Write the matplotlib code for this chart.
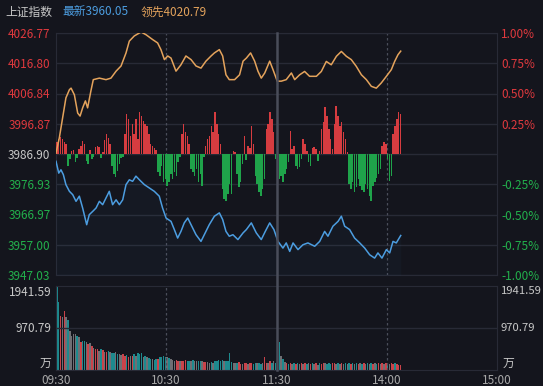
import matplotlib
matplotlib.use('Agg')
import matplotlib.pyplot as plt
from matplotlib.lines import Line2D

plt.rcParams['font.family'] = ['Noto Sans CJK SC', 'DejaVu Sans']

# ---------------- data ----------------
PREV_CLOSE = 3986.90
LATEST = 3960.05
LEAD = 4020.79

lead_min = [0, 1.8, 3.6, 5.4, 7.3, 8.2, 10.0, 11.8, 13.1, 14.5, 16.0, 17.2, 19.0, 20.3, 23.6,
            27.2, 29.9, 32.7, 35.4, 38.1, 39.9, 42.6, 46.3, 49.0, 52.6, 55.3, 57.1, 59.0, 60.8,
            62.6, 65.3, 68.0, 70.7, 73.5, 76.2, 78.9, 81.6, 84.4, 86.2, 88.9, 90.7, 92.5, 94.3,
            97.2, 99.9, 101.8, 103.6, 105.9, 108.1, 109.9, 111.7, 113.6, 116.3, 118.1, 120.4,
            122.6, 125.3, 128.1, 129.9, 132.6, 135.3, 138.0, 141.7, 144.4, 147.1, 149.8, 152.6,
            155.3, 158.0, 160.7, 163.4, 166.2, 168.9, 171.6, 174.3, 177.0, 179.8, 182.5, 184.3,
            186.1, 187.6]
lead_val = [3987.2, 3992.2, 3998.8, 4005.4, 4008.1, 4008.6, 4006.4, 4000.4, 3999.4, 4002.1,
            4004.4, 4002.1, 4007.7, 4011.4, 4011.9, 4011.4, 4011.9, 4014.2, 4015.9, 4020.2,
            4024.1, 4025.8, 4027.1, 4026.2, 4024.6, 4023.5, 4021.3, 4018.0, 4019.2, 4018.5,
            4014.2, 4016.3, 4019.2, 4018.0, 4015.9, 4015.2, 4017.5, 4019.2, 4020.2, 4021.3,
            4019.2, 4013.0, 4011.4, 4011.4, 4013.0, 4017.5, 4018.5, 4020.2, 4017.5, 4014.2,
            4011.9, 4013.6, 4017.5, 4014.7, 4010.9, 4010.9, 4011.4, 4013.6, 4011.4, 4013.0,
            4014.1, 4012.5, 4012.5, 4014.1, 4017.4, 4016.3, 4019.1, 4020.7, 4019.1, 4018.0,
            4015.8, 4013.0, 4011.4, 4009.2, 4008.6, 4010.3, 4012.5, 4014.7, 4017.4, 4019.6,
            4020.79]

price_min = [0, 1.5, 2.7, 4.0, 5.4, 7.3, 9.1, 10.9, 12.7, 14.5, 16.7, 18.1, 20.0, 21.8, 23.6,
             25.4, 27.2, 29.0, 30.8, 32.7, 34.5, 36.3, 38.1, 39.9, 41.7, 43.5, 45.4, 48.1, 50.8,
             53.5, 56.2, 58.0, 59.9, 62.6, 64.4, 66.2, 68.0, 69.8, 71.7, 73.5, 76.2, 78.9, 80.7,
             83.4, 86.2, 88.9, 90.7, 92.5, 94.3, 96.3, 99.0, 101.8, 103.6, 106.3, 109.0, 111.7,
             113.9, 116.3, 118.6, 120.8, 123.5, 125.3, 127.2, 129.0, 131.7, 134.4, 137.1, 140.8,
             143.5, 146.2, 148.0, 150.7, 153.5, 155.3, 157.1, 159.8, 162.5, 165.3, 168.0, 170.7,
             173.4, 175.2, 177.4, 179.8, 181.6, 183.4, 185.2, 187.6]
price_val = [3984.5, 3980.6, 3981.7, 3980.1, 3976.8, 3974.6, 3973.5, 3971.3, 3973.0, 3969.1,
             3963.6, 3966.9, 3968.0, 3969.1, 3971.3, 3970.2, 3972.4, 3974.6, 3970.2, 3971.8,
             3970.2, 3971.8, 3976.8, 3978.4, 3977.9, 3979.6, 3978.4, 3976.8, 3975.7, 3974.6,
             3973.0, 3969.1, 3965.8, 3964.7, 3962.0, 3959.2, 3961.4, 3964.2, 3965.8, 3963.6,
             3960.3, 3958.1, 3960.3, 3963.6, 3966.4, 3967.5, 3965.3, 3961.4, 3959.8, 3960.3,
             3958.7, 3960.9, 3962.0, 3964.2, 3960.9, 3958.7, 3961.4, 3964.2, 3962.0, 3958.1,
             3955.9, 3957.6, 3954.8, 3957.6, 3955.4, 3957.0, 3957.6, 3956.5, 3958.1, 3961.4,
             3959.8, 3963.1, 3964.7, 3966.4, 3963.1, 3962.0, 3959.2, 3957.6, 3955.9, 3953.7,
             3952.6, 3954.3, 3952.6, 3955.4, 3954.3, 3958.1, 3957.6, 3960.05]

# buy/sell strength per minute (arbitrary units)
strength = [12, 15, 17, 15, 12, 10, -12, -5, 3, 4,
            -8, -4, 5, 8, 13, 10, -7, -10, 4, -5,
            -3, 7, 8, 7, -4, 2, 14, 20, 16, 10,
            -12, -20, -23, -17, -10, -4, -3, 20, 40, 35,
            18, 30, 20, 35, 15, 42, 38, 33, 30, 28,
            20, 10, 8, 6, 4, -18, -22, -12, -28, -25,
            -32, -28, -20, -25, -18, -22, -8, -3, 20, 30,
            22, 18, 10, -15, -18, -22, -15, -28, -20, -32,
            -3, 8, 15, 18, 28, 22, 42, 30, 20, 10,
            -35, -45, -47, -40, -30, -40, 3, 2, -20, -33,
            -28, -10, 18, -6, 8, 6, 28, 10, -22, -30,
            -38, -42, -35, -25, 25, 30, 42, 35, 22, -5,
            -15, -25, -22, -28, -20, -15, -8, 23, 5, 8,
            -12, -15, -13, -5, 15, 10, 3, -8, -12, 6,
            7, 5, -7, 3, 25, 32, 47, 38, 25, 15,
            5, 30, 48, 38, 28, 32, 22, 15, 2, -30,
            -35, -28, -38, -33, -25, -32, -36, -38, -30, -35,
            -42, -47, -32, -28, -24, -20, -15, 8, 12, 10,
            -5, -27, -22, 20, 28, 35, 42, 40]

# volume per minute (万)
volume = [1940, 1570, 1250, 1220, 1370, 1220, 1155, 910, 795, 830,
          830, 795, 755, 640, 680, 680, 640, 600, 615, 560,
          520, 485, 485, 445, 485, 460, 410, 410, 445, 410,
          385, 385, 410, 370, 370, 345, 370, 330, 345, 310,
          330, 330, 370, 330, 385, 370, 385, 310, 330, 290,
          275, 255, 255, 230, 255, 255, 290, 310, 330, 310,
          290, 275, 255, 230, 215, 230, 215, 215, 215, 200,
          230, 215, 200, 215, 230, 200, 215, 215, 200, 215,
          190, 175, 175, 170, 175, 170, 200, 215, 230, 200,
          230, 200, 215, 200, 385, 175, 155, 170, 155, 175,
          140, 140, 170, 155, 140, 170, 155, 140, 170, 155,
          160, 140, 170, 290, 170, 155, 200, 170, 215, 155,
          300, 640, 330, 255, 175, 155, 140, 160, 140, 155,
          140, 155, 140, 155, 140, 160, 140, 155, 140, 170,
          140, 155, 125, 155, 140, 170, 155, 140, 170, 140,
          155, 170, 140, 170, 140, 155, 140, 155, 140, 170,
          140, 155, 140, 170, 140, 155, 140, 170, 140, 155,
          140, 170, 140, 155, 140, 170, 140, 155, 140, 170,
          155, 140, 170, 140, 155, 140, 125, 110]
# r = up, t = down, g = flat
vol_dir = list("ttrgrgtggg" "gtgrttgrgr" "grrgtrgrtg" "ttgtggrrtr" "grtgtttgtg"
               "ttgttrtttt" "gtgggrrgrr" "rttgtggttg" "rrggtgtttt" "tgttttggtr"
               "rgrrgrrttg" "ttgrrgrtgt" "ttgtgrtrgt" "rtgrgrtgrt" "grgtrrgttt"
               "rrgtgrgtgt" "rtgtrgtrgt" "gtrgtrgrgr" "tgrrtrrr")

price_ticks = [4026.77, 4016.80, 4006.84, 3996.87, 3986.90, 3976.93, 3966.97, 3957.00, 3947.03]
pct_ticks = [1.00, 0.75, 0.50, 0.25, 0.0, -0.25, -0.50, -0.75, -1.00]
vol_ticks = [1941.59, 970.79]
time_pos = [0, 60, 120, 180, 240]
time_labels = ['09:30', '10:30', '11:30', '14:00', '15:00']

# ---------------- style ----------------
BG = '#14151d'
GRID = '#282a36'
RED = '#e0393e'
GREEN = '#22b04c'
GRAYTXT = '#c8c8c8'
ORANGE = '#e4a35c'
BLUE = '#4c9de0'
BAR_RED = '#d63c40'
BAR_GREEN = '#1fa34a'
VCOL = {'r': '#c9434a', 't': '#1d8a8e', 'g': '#6f6f74'}
VLINE = '#4a4d5a'

W, H = 543, 386
fig = plt.figure(figsize=(W / 100, H / 100), dpi=100, facecolor=BG)

def rect(x0, y0, x1, y1):
    return [x0 / W, 1 - y1 / H, (x1 - x0) / W, (y1 - y0) / H]

top_rect = rect(56, 33, 497, 275)
vol_rect = rect(56, 286, 497, 370)

# pct axis (bottom layer): grid + right labels
ax_p = fig.add_axes(top_rect)
ax_p.set_facecolor(BG)
ax_p.set_xlim(0, 240)
ax_p.set_ylim(-1.0, 1.0)
for p in pct_ticks:
    ax_p.axhline(p, color=GRID, lw=1.0, zorder=0)
ax_p.yaxis.tick_right()
ax_p.set_yticks(pct_ticks)
ax_p.set_yticklabels(['' if p == 0 else f'{p:.2f}%' for p in pct_ticks], fontsize=8.5)
for lab, p in zip(ax_p.get_yticklabels(), pct_ticks):
    lab.set_color(RED if p > 0 else (GREEN if p < 0 else GRAYTXT))
ax_p.tick_params(axis='y', length=0, pad=3)
ax_p.set_xticks([])
for s in ax_p.spines.values():
    s.set_color(GRID)
ax_p.axvline(60, color=VLINE, lw=0.9, ls=(0, (2, 2)))
ax_p.axvline(180, color=VLINE, lw=0.9, ls=(0, (2, 2)))

# strength bars
ax_s = fig.add_axes(top_rect)
ax_s.set_facecolor('none')
ax_s.set_xlim(0, 240)
ax_s.set_ylim(-121, 121)
xs = [i + 0.5 for i in range(len(strength))]
ax_s.bar(xs, strength, width=0.8,
         color=[BAR_RED if v > 0 else BAR_GREEN for v in strength], lw=0)
ax_s.axis('off')

# index lines
ax = fig.add_axes(top_rect)
ax.set_facecolor('none')
ax.set_xlim(0, 240)
ax.set_ylim(price_ticks[-1], price_ticks[0])
ax.fill_between(price_min, price_val, price_ticks[-1], color=BLUE, alpha=0.035, lw=0)
ax.plot(lead_min, lead_val, color=ORANGE, lw=1.1)
ax.plot(price_min, price_val, color=BLUE, lw=1.1)
ax.set_yticks(price_ticks)
ax.set_yticklabels([f'{v:.2f}' for v in price_ticks], fontsize=8.5)
for lab, v in zip(ax.get_yticklabels(), price_ticks):
    lab.set_color(RED if v > PREV_CLOSE else (GREEN if v < PREV_CLOSE else GRAYTXT))
ax.tick_params(axis='y', length=0, pad=4)
ax.set_xticks([])
for s in ax.spines.values():
    s.set_visible(False)

# volume panel
av = fig.add_axes(vol_rect)
av.set_facecolor(BG)
av.set_xlim(0, 240)
av.set_ylim(0, vol_ticks[0])
av.axhline(vol_ticks[1], color=GRID, lw=1.0)
av.axvline(60, color=VLINE, lw=0.9, ls=(0, (2, 2)))
av.axvline(180, color=VLINE, lw=0.9, ls=(0, (2, 2)))
av.bar([i + 0.5 for i in range(len(volume))], volume, width=0.8,
       color=[VCOL[d] for d in vol_dir], lw=0)
for s in av.spines.values():
    s.set_color(GRID)
av.set_yticks([])
av.set_xticks(time_pos)
av.set_xticklabels(time_labels, fontsize=8.5, color='#a8a8a8')
av.tick_params(axis='x', length=0, pad=3)

tr_l = av.get_yaxis_transform()
for v, va in [(vol_ticks[0], 'top'), (vol_ticks[1], 'center')]:
    av.text(-0.01, v, f'{v:.2f}', transform=tr_l, ha='right', va=va, fontsize=8.5, color=GRAYTXT)
    av.text(1.008, v, f'{v:.2f}', transform=tr_l, ha='left', va=va, fontsize=8.1, color=GRAYTXT)
av.text(-0.01, 0, '万', transform=tr_l, ha='right', va='bottom', fontsize=8.5, color=GRAYTXT)
av.text(1.012, 0, '万', transform=tr_l, ha='left', va='bottom', fontsize=8.5, color=GRAYTXT)

# 11:30 session divider spanning both panels
x1130 = 56 + 120 * (441 / 240)
fig.add_artist(Line2D([x1130 / W, x1130 / W], [1 - 33 / H, 1 - 370 / H],
                      transform=fig.transFigure, color=VLINE, lw=1.8, zorder=5))

# header
fig.text(5 / W, 1 - 12 / H, '上证指数', ha='left', va='center', fontsize=8.5, color=GRAYTXT)
fig.text(62 / W, 1 - 12 / H, f'最新{LATEST:.2f}', ha='left', va='center', fontsize=8.5, color=BLUE)
fig.text(141 / W, 1 - 12 / H, f'领先{LEAD:.2f}', ha='left', va='center', fontsize=8.5, color=ORANGE)

fig.savefig('out.png', dpi=100, facecolor=BG)
